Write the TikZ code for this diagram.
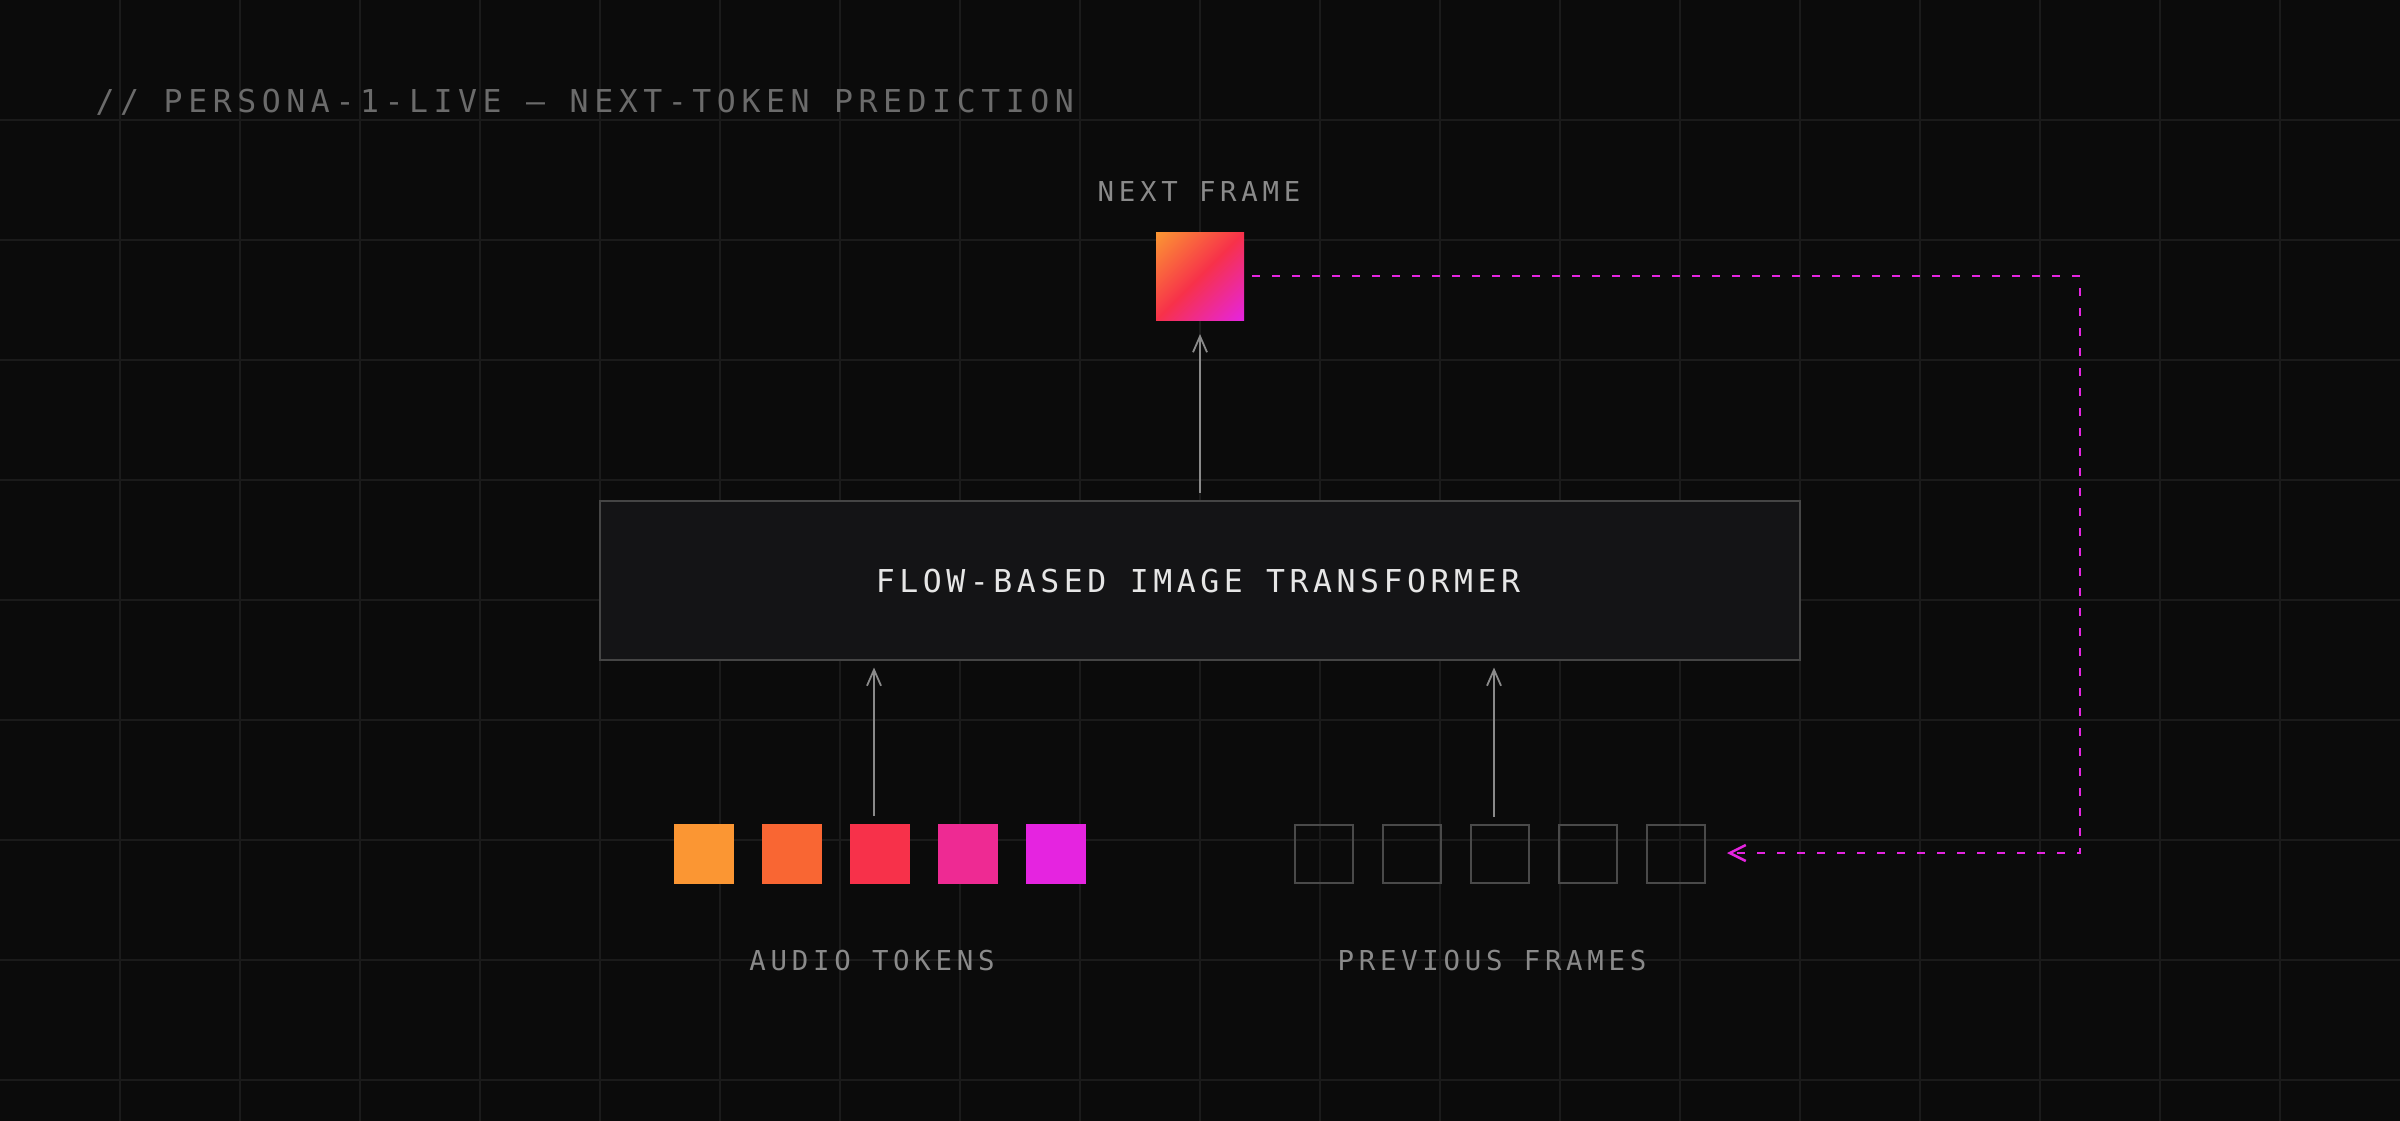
\documentclass[tikz,border=0pt]{standalone}
\usepackage{fontspec}
\usetikzlibrary{arrows.meta,calc}
\newfontfamily\titlefont[LetterSpace=17.7]{DejaVu Sans Mono}
\newfontfamily\boxfont[LetterSpace=14.4]{DejaVu Sans Mono}
\newfontfamily\labelfont[LetterSpace=17.2]{DejaVu Sans Mono}
\definecolor{bgc}{HTML}{0B0B0B}
\definecolor{gridc}{HTML}{1B1B1B}
\definecolor{titlec}{HTML}{6B6B6B}
\definecolor{labelc}{HTML}{8A8A8A}
\definecolor{boxfill}{HTML}{141416}
\definecolor{boxdraw}{HTML}{454545}
\definecolor{boxtext}{HTML}{E6E6E6}
\definecolor{arrowc}{HTML}{8A8A8A}
\definecolor{framec}{HTML}{4A4A4A}
\definecolor{tokA}{HTML}{FB9633}
\definecolor{tokB}{HTML}{F96633}
\definecolor{tokC}{HTML}{F7314A}
\definecolor{tokD}{HTML}{EE2A93}
\definecolor{tokE}{HTML}{E524E0}
\pgfdeclarehorizontalshading{nfgrad}{100bp}{color(0bp)=(tokA); color(15bp)=(tokA); color(50bp)=(tokC); color(85bp)=(tokE); color(100bp)=(tokE)}
\tikzset{
  gridline/.style={draw=gridc, line width=1.5pt},
  token/.style={draw=none, minimum size=60pt, inner sep=0pt, outer sep=0pt},
  prevframe/.style={draw=framec, line width=2pt, minimum size=58pt, inner sep=0pt, outer sep=1pt},
  garrow/.style={draw=arrowc, line width=1.8pt, -{Straight Barb[length=16pt,width=14pt,line width=1.8pt]}},
  loopline/.style={draw=tokE, line width=2.5pt, dash pattern=on 8pt off 12pt, -{Straight Barb[length=16pt,width=16pt,line width=2.5pt,sep=0pt]}},
  lbl/.style={text=labelc, inner sep=0pt, anchor=base, font=\labelfont\fontsize{27.4}{32}\selectfont},
}
\begin{document}
\begin{tikzpicture}[x=1pt,y=-1pt]
\useasboundingbox (0,0) rectangle (2400,1120);
\fill[bgc] (-10,-10) rectangle (2410,1130);
\foreach \gx in {120,240,...,2280} \draw[gridline] (\gx,-10) -- (\gx,1130);
\foreach \gy in {120,240,...,1080} \draw[gridline] (-10,\gy) -- (2410,\gy);

\node[text=titlec, inner sep=0pt, anchor=base west, font=\titlefont\fontsize{31.5}{36}\selectfont] (title) at (95.5,112) {// PERSONA-1-LIVE — NEXT-TOKEN PREDICTION};

\node[lbl] (nflabel) at (1199,201) {NEXT FRAME};
\node[inner sep=0pt, outer sep=0pt, minimum size=88pt, shading=nfgrad, shading angle=-45] (nf) at (1200,276) {};

\node[fill=boxfill, draw=boxdraw, line width=2pt, minimum width=1200pt, minimum height=159pt, inner sep=0pt, outer sep=0pt] (tf) at (1200,580) {};
\node[text=boxtext, inner sep=0pt, anchor=base, font=\boxfont\fontsize{31.5}{36}\selectfont] (tftext) at (1198,592) {FLOW-BASED IMAGE TRANSFORMER};

\node[token, fill=tokA] (a1) at (704,854) {};
\node[token, fill=tokB] (a2) at (792,854) {};
\node[token, fill=tokC] (a3) at (880,854) {};
\node[token, fill=tokD] (a4) at (968,854) {};
\node[token, fill=tokE] (a5) at (1056,854) {};

\node[prevframe] (p1) at (1324,854) {};
\node[prevframe] (p2) at (1412,854) {};
\node[prevframe] (p3) at (1500,854) {};
\node[prevframe] (p4) at (1588,854) {};
\node[prevframe] (p5) at (1676,854) {};

\node[lbl] (alabel) at (872,970) {AUDIO TOKENS};
\node[lbl] (plabel) at (1492,970) {PREVIOUS FRAMES};

\draw[garrow] ($(tf.north)+(0,-8)$) -- ($(nf.south)+(0,14)$);
\draw[garrow] ($(a3.north)+(-6,-8)$) -- ($(a3.north |- tf.south)+(-6,8)$);
\draw[garrow] ($(p3.north)+(-6,-7)$) -- ($(p3.north |- tf.south)+(-6,8)$);

\coordinate (loopR) at (2080,0);
\draw[loopline] ($(nf.east)+(8,0)$) -- (loopR |- nf.east) -- ($(loopR |- p5.east)+(0,-1)$) -- ($(p5.east)+(21,-1)$);
\end{tikzpicture}
\end{document}
